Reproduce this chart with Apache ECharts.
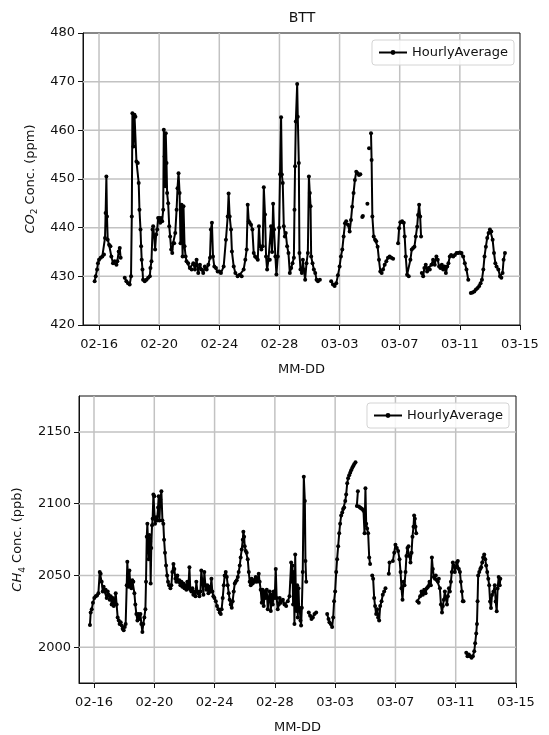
<!DOCTYPE html>
<html>
<head>
<meta charset="utf-8">
<script src="https://cdn.jsdelivr.net/npm/echarts@6/dist/echarts.min.js"></script>
<style>
html,body{margin:0;padding:0;background:#fff;}
#chart{width:549px;height:735px;}
</style>
</head>
<body>
<div id="chart"></div>
<script>
// x values: days since 2024-02-16 00:00 ; null value = gap in record
const tickDays = [0, 4, 8, 12, 16, 20, 24, 28];
const tickLabels = ['02-16', '02-20', '02-24', '02-28', '03-03', '03-07', '03-11', '03-15'];
const co2Ticks = [420, 430, 440, 450, 460, 470, 480];
const ch4Ticks = [2000, 2050, 2100, 2150];
const seriesName = 'HourlyAverage';
const chartTitle = 'BTT';

const co2Day = [-0.29,-0.22,-0.13,-0.07,0,0.11,0.22,0.33,0.4,0.44,0.49,0.53,0.58,0.67,0.76,0.82,0.93,1.04,1.16,1.22,1.31,1.38,1.44,1.55,
1.71,1.82,1.93,2.04,2.13,2.18,2.22,2.29,2.36,2.42,2.49,2.58,2.64,2.69,2.76,2.8,2.84,2.89,2.93,3.04,3.16,3.27,3.38,3.42,3.49,3.56,3.6,3.67,3.73,3.8,3.87,3.93,
4.0,4.07,4.13,4.2,4.27,4.31,4.36,4.4,4.44,4.49,4.53,4.6,4.67,4.73,4.8,4.87,4.93,5.0,5.07,5.16,5.22,5.29,5.36,5.42,5.49,5.56,5.62,5.69,5.76,5.82,5.93,
6.04,6.16,6.27,6.38,6.49,6.6,6.71,6.82,6.93,7.04,7.16,7.27,7.38,7.44,7.51,7.58,7.67,7.78,7.89,8.0,8.11,8.29,8.44,8.56,8.62,8.69,8.78,8.84,8.96,
9.07,9.22,9.36,9.49,9.62,9.73,9.82,9.89,9.96,10.02,10.11,10.2,10.29,10.38,10.47,10.56,10.64,10.71,10.8,10.89,10.96,11.04,11.11,11.18,11.27,11.36,11.44,11.51,11.58,11.64,11.73,11.8,11.89,11.98,
12.04,12.11,12.16,12.22,12.29,12.36,12.42,12.51,12.6,12.69,12.78,12.87,12.96,13.0,13.04,13.09,13.18,13.22,13.29,13.33,13.4,13.49,13.56,13.62,13.71,13.8,13.89,13.96,14.02,14.07,14.11,14.2,14.29,14.38,14.47,14.56,14.69,15.0,
15.44,15.56,15.67,15.78,15.89,16.0,16.09,16.18,16.27,16.36,16.44,16.56,16.67,16.76,16.84,16.93,17.02,17.11,17.2,17.29,17.38,17.45,17.51,17.55,17.65,17.85,17.9,17.96,18.03,
18.09,18.13,18.18,18.27,18.36,18.44,18.53,18.62,18.71,18.8,18.89,19.0,19.11,19.22,19.33,19.44,19.56,19.7,19.89,19.96,20.04,20.16,20.27,20.33,20.4,20.49,20.6,20.71,20.8,20.89,20.98,21.07,21.16,21.22,21.29,21.36,21.42,21.44,
21.47,21.56,21.64,21.73,21.82,21.91,22.0,22.11,22.22,22.33,22.44,22.53,22.62,22.71,22.8,22.89,22.98,23.07,23.16,23.24,23.33,23.42,23.56,23.67,23.78,23.89,24.0,24.11,24.22,24.33,24.44,24.56,24.65,
24.73,24.84,24.96,25.07,25.18,25.29,25.38,25.47,25.56,25.64,25.73,25.82,25.91,26.0,26.09,26.18,26.27,26.36,26.44,26.56,26.67,26.76,26.84,26.91,27.0];
const co2Ppm = [429,430,431.4,432.7,433.4,433.8,434.1,434.5,437.9,443,450.5,442.3,437.5,436.5,436.2,434.1,432.7,433.1,432.4,433.1,435.1,435.8,433.8,null,
429.7,429,428.6,428.3,430,442.3,463.5,456.7,463.2,462.8,453.6,453.3,449.2,443.7,439.6,436.2,433.4,431.4,429.3,429,429.3,429.7,430,431.7,433.1,439.6,440.3,438.2,435.5,438.6,439.6,442,
442,441,442,441.3,443.7,460.1,454.6,448.5,459.4,453.3,447.1,445,440.3,438.2,435.5,434.8,436.8,436.8,438.9,443.7,448.1,451.2,447.1,436.8,444.7,434.1,444.4,436.2,434.1,433.1,432.7,
431.7,431.4,432.7,431.4,433.4,430.7,432.4,431.4,430.7,432,431.4,432.4,433.8,439.6,441,434.1,432,431.7,431,431,430.7,432,437.5,442.3,447,442.3,439.6,435.1,432,
430.7,430,430.3,430,431.4,433.4,435.5,444.7,441.3,441,440.6,439.6,434.8,434.1,433.8,433.4,440.3,436.2,435.5,436.2,448.3,442.7,434.1,431.4,433.4,433.4,440.3,435,444.9,439.6,434.1,430.4,434.1,440,
451,462.7,450.9,449.2,440.3,438.2,438.9,436.2,434.8,430.7,431.7,432.7,433.8,443.7,452.6,461.8,469.5,462.8,453.3,434.8,431.4,430.7,433.4,431.4,429.3,432.7,434.8,450.5,447.1,444.4,434.1,432.7,431.4,430.7,429.3,429,429.3,null,
429,428.3,428,428.6,430.2,432,434.1,435.5,438.2,440.9,441.3,440.6,439.2,441.6,444.3,447.1,449.8,451.5,451.2,450.8,451,null,442.2,442.4,null,444.9,null,456.3,null,
459.4,453.9,442.3,438.2,437.5,437.2,436.1,433.4,431,430.7,431.4,432.4,433.1,433.8,434.1,433.8,433.6,null,436.8,439.9,441.1,441.3,441,438.2,434.1,430.3,430,433.4,435.5,435.8,436.1,438.2,440.2,442.6,444.7,442.3,438.2,null,
430.7,430,431.7,432.4,431,431.7,431.4,432.4,433.4,432.4,434.1,433.4,432,431.7,432.4,431.4,432,430.7,432,432.7,434.1,434.4,434.1,434.4,434.8,434.8,434.9,434.8,434.1,432.7,431.4,429.3,null,
426.6,426.7,426.9,427.3,427.6,428,428.6,429.3,431.4,434.1,436.1,437.9,438.9,439.6,439.2,437.5,434.8,432.7,432,431.4,430,429.7,430.7,433.4,434.8];

const ch4Day = [-0.27,-0.22,-0.15,-0.07,0.02,0.11,0.2,0.29,0.38,0.44,0.51,0.58,0.64,0.71,0.77,0.84,0.91,0.97,1.04,1.11,1.17,1.24,1.31,1.37,1.44,1.5,1.57,1.64,1.7,1.77,1.84,1.9,1.97,2.04,2.1,
2.17,2.21,2.28,2.35,2.41,2.48,2.54,2.61,2.68,2.74,2.81,2.88,2.94,3.01,3.08,3.14,3.21,3.27,3.34,3.41,3.45,3.5,3.54,3.58,3.63,3.67,3.72,3.76,3.8,3.85,3.89,3.94,
4.0,4.05,4.12,4.18,4.25,4.29,4.34,4.4,4.47,4.54,4.6,4.65,4.71,4.78,4.85,4.91,4.98,5.07,5.13,5.2,5.27,5.33,5.4,5.46,5.53,5.6,5.66,5.73,5.8,5.86,5.93,
6.0,6.06,6.13,6.19,6.26,6.33,6.39,6.46,6.53,6.59,6.66,6.73,6.79,6.86,6.92,6.99,7.06,7.12,7.19,7.26,7.32,7.39,7.46,7.52,7.59,7.65,7.72,7.79,7.85,7.92,7.99,
8.08,8.16,8.25,8.34,8.41,8.47,8.54,8.61,8.67,8.74,8.81,8.87,8.94,9.0,9.07,9.14,9.2,9.27,9.34,9.4,9.47,9.54,9.6,9.67,9.73,9.8,9.87,9.91,9.96,
10.0,10.07,10.13,10.2,10.27,10.33,10.4,10.46,10.53,10.6,10.66,10.73,10.8,10.86,10.93,10.99,11.06,11.13,11.19,11.26,11.33,11.39,11.46,11.53,11.59,11.66,11.73,11.79,11.86,11.92,11.99,
12.06,12.12,12.19,12.26,12.32,12.4,12.53,12.64,12.75,12.86,12.97,13.08,13.12,13.17,13.21,13.26,13.3,13.35,13.39,13.43,13.48,13.52,13.57,13.61,13.66,13.7,13.74,13.79,13.85,13.92,13.99,14.03,14.08,14.15,
14.25,14.34,14.43,14.52,14.63,14.74,15.1,15.47,15.56,15.62,15.71,15.8,15.87,15.93,16.0,16.07,16.13,16.2,16.27,16.33,16.4,16.47,16.53,16.6,16.67,16.73,16.8,16.86,16.93,17.0,17.06,17.13,17.19,17.26,17.35,17.4,
17.44,17.51,17.54,17.57,17.65,17.72,17.79,17.88,17.95,18.01,18.06,18.12,18.19,18.26,18.32,18.39,18.46,18.52,18.59,18.65,18.72,18.79,18.85,18.92,18.99,19.08,19.16,19.25,19.34,19.45,19.56,19.61,19.7,
19.83,19.92,20.0,20.09,20.18,20.27,20.34,20.4,20.47,20.54,20.6,20.67,20.73,20.8,20.87,20.93,21.0,21.07,21.13,21.2,21.24,21.29,21.33,21.38,21.42,
21.46,21.55,21.64,21.73,21.82,21.91,22.0,22.08,22.17,22.26,22.35,22.42,22.48,22.55,22.62,22.68,22.75,22.82,22.88,22.95,23.02,23.09,23.15,23.21,23.28,23.35,23.42,23.48,23.55,23.61,23.68,23.74,23.81,23.88,23.94,
24.01,24.08,24.14,24.21,24.28,24.34,24.41,24.47,24.52,24.6,24.7,24.78,24.87,24.96,25.05,25.14,25.23,25.29,25.36,25.41,25.45,25.49,25.56,25.63,25.69,25.76,25.82,25.89,25.96,
26.02,26.09,26.16,26.22,26.28,26.34,26.41,26.5,26.59,26.65,26.72,26.78,26.85,26.92,26.96];
const ch4Ppb = [2015.5,2024.1,2026.4,2030.9,2034.2,2035.4,2036,2037.6,2052.3,2051.1,2045.5,2038.7,2042.1,2038.7,2039.9,2034.2,2038.7,2036.5,2033.1,2035.4,2029.7,2034.2,2028.6,2032,2037.6,2029.7,2020.7,2018.5,2016.2,2017.3,2015.1,2012.8,2011.7,2014,2016.2,
2043.2,2059.5,2042.1,2053.4,2043.2,2041,2046.6,2045.5,2037.6,2029.7,2023,2018.5,2023,2019.6,2023,2016.2,2010.6,2016.2,2020.7,2026.4,2045.5,2077,2086,2074.8,2061.3,2078.2,2073.6,2044.4,2069.1,2084.9,2089.4,2106.3,
2105.2,2086,2090.5,2088.3,2097.3,2105.2,2088.3,2102.9,2108.6,2088.3,2086,2074.8,2065.8,2056.8,2050,2045.5,2043.2,2041,2043.2,2052.3,2057.9,2054.5,2047.7,2045.5,2050,2045.5,2046.6,2043.2,2045.5,2042.1,2044.4,
2041,2043.2,2039.9,2045.5,2041,2055.6,2039.9,2038.7,2041,2036.5,2038.7,2035.4,2045.5,2038.7,2037.6,2035.4,2038.7,2053.4,2045.5,2036.5,2052.3,2043.2,2039.9,2043.2,2037.6,2042.1,2038.7,2047.7,2038.7,2035.4,2034.2,
2032,2028.6,2026.4,2024.1,2023,2026.4,2034.2,2043.2,2050,2052.3,2048.9,2043.2,2037.6,2033.1,2029.7,2027.5,2032,2038.7,2044.4,2045.5,2046.6,2048.9,2052.3,2056.8,2062.4,2068,2074.8,2080.4,2077,
2070.3,2066.9,2065.8,2061.3,2052.3,2045.5,2043.2,2047.7,2044.4,2046.6,2045.5,2048.9,2045.5,2047.7,2051.1,2045.5,2039.9,2030.9,2039.9,2028.6,2038.7,2034.2,2039.9,2026.4,2034.2,2038.7,2025.2,2036.5,2029.7,2038.7,2034.2,
2054.5,2034.2,2026.4,2029.7,2034.2,2031,2033.1,2029.7,2028.6,2032,2035.4,2059,2045.5,2056.8,2029.7,2052.3,2016.2,2064.6,2038.7,2025.2,2043.2,2020.7,2041,2027.5,2025.2,2018.5,2015.1,2027.5,2052.3,2118.7,2101.8,2060.1,2045.5,null,
2024.1,2021.8,2019.6,2020.7,2023,2024.1,null,2023,2019.6,2017.3,2016.2,2014,2020.7,2032,2038.7,2052.3,2061.3,2070.3,2079.3,2086,2091.7,2093.9,2096.2,2097.3,2101.8,2106.3,2114.2,2117.6,2119.8,2121.6,2123.2,2124.8,2126.1,2127.5,2128.8,null,
2098.4,2108.6,null,2098,2097.3,2096.8,2096.2,2095.1,2079.3,2110.8,2086,2082.6,2079.3,2062.4,2057.9,null,2050,2047.7,2034.2,2028.6,2023,2026.4,2020.7,2018.5,2028.6,2032,2036.5,2038.7,2041,null,2051.1,2059,null,
2060.1,2065.8,2071.4,2069.1,2066.9,2061.3,2052.3,2041,2033.1,2045.5,2043.2,2052.3,2063.5,2069.1,2070.3,2063.5,2059,2065.8,2077,2083.8,2091.7,2089.4,2083.8,2079.3,null,
2032,2030.9,2035.4,2038.7,2036.5,2039.9,2037.6,2041,2042.1,2045.5,2043.2,2062.4,2054.5,2048.9,2047.7,2050,2046.6,2045.5,2047.7,2041,2029.7,2024.1,2028.6,2033.1,2038.7,2034.2,2029.7,2035.4,2041,2038.7,2045.5,2052.3,2059,2056.8,2052.3,
2055.6,2059,2060.1,2054.5,2052.3,2045.5,2038.7,2032,2032,null,1996,1993.7,1994.8,1993.7,1992.6,1993.7,1997.1,2002.7,2009.5,2016.2,2032,2050,2052.3,2054.5,2055.6,2059,2062.4,2064.6,2061.3,
2056.8,2052.3,2047.7,2043.2,2031.8,2027.3,2036.3,2038.6,2043.1,2031.8,2025,2040.9,2048.8,2043.1,2047.6];

function pairs(xs, ys) {
  return xs.map((x, i) => [x, ys[i] === null ? '-' : ys[i]]);
}
function dayLabel(v) {
  const i = tickDays.indexOf(Math.round(v));
  return i >= 0 ? tickLabels[i] : '';
}

const FONT = 'DejaVu Sans';
const TXT = '#111';
const GRID = '#c2c2c2';

// panel extents
const co2X = [-1.065, 28], co2Y = [1975 * 0 + 420, 480];
const ch4X = [-0.996, 28], ch4Y = [1975, 2175];

// grid lines drawn as polylines placed through the axes' own scales
function gridData(xExt, yExt, yTicks) {
  const out = [];
  tickDays.filter(d => d > xExt[0] && d < xExt[1]).forEach(d => {
    out.push([d, yExt[0]], [d, yExt[1]], [d, '-']);
  });
  yTicks.filter(v => v > yExt[0] && v < yExt[1]).forEach(v => {
    out.push([xExt[0], v], [xExt[1], v], [xExt[1], '-']);
  });
  return out;
}
function gridSeries(idx, data) {
  return {
    name: 'grid' + idx, type: 'line', xAxisIndex: idx, yAxisIndex: idx, data: data,
    showSymbol: false, symbol: 'none', connectNulls: false, silent: true, z: 2,
    lineStyle: {color: GRID, width: 1.5}, emphasis: {disabled: true}, tooltip: {show: false}
  };
}

function xAxisCfg(gridIndex, ext) {
  return {
    type: 'value', gridIndex: gridIndex, min: ext[0], max: ext[1],
    name: 'MM-DD', nameLocation: 'middle', nameGap: 38,
    nameTextStyle: {fontFamily: FONT, fontSize: 13, color: TXT},
    axisLine: {show: true, onZero: false, lineStyle: {color: '#111', width: 1}},
    axisTick: {show: true, inside: false, length: 5, customValues: tickDays, lineStyle: {color: '#111', width: 1}},
    axisLabel: {customValues: tickDays, formatter: dayLabel, margin: 13, fontFamily: FONT, fontSize: 13, color: TXT},
    splitLine: {show: false}
  };
}

function yName(main, sub, rest) {
  return '{i|' + main + '}{s|' + sub + '}{n|' + rest + '}';
}
const nameRich = {
  i: {fontFamily: FONT, fontStyle: 'italic', fontSize: 13, color: TXT, lineHeight: 18, verticalAlign: 'middle'},
  s: {fontFamily: FONT, fontSize: 9, color: TXT, lineHeight: 18, verticalAlign: 'bottom', padding: [6, 0, 0, 0]},
  n: {fontFamily: FONT, fontSize: 13, color: TXT, lineHeight: 18, verticalAlign: 'middle'}
};

const option = {
  animation: false,
  backgroundColor: '#fff',
  title: {
    text: chartTitle, left: 302, top: 11, textAlign: 'center', padding: 0,
    textStyle: {fontFamily: FONT, fontSize: 14, fontWeight: 'normal', color: TXT}
  },
  legend: [
    {data: [seriesName], right: 35, top: 40},
    {data: [seriesName], right: 40, top: 403}
  ].map(l => Object.assign(l, {
    orient: 'vertical', itemWidth: 28, itemHeight: 6,
    padding: [6, 6, 6, 6], borderColor: '#d4d4d4', borderWidth: 1, borderRadius: 3,
    backgroundColor: 'rgba(255,255,255,0.85)',
    textStyle: {fontFamily: FONT, fontSize: 13, color: TXT},
    lineStyle: {width: 2}
  })),
  grid: [
    {left: 83, top: 33, width: 437, height: 292, show: true, borderColor: '#111', borderWidth: 1},
    {left: 79, top: 396, width: 437, height: 295, show: true, borderColor: '#111', borderWidth: 1}
  ],
  xAxis: [xAxisCfg(0, co2X), xAxisCfg(1, ch4X)],
  yAxis: [
    {
      type: 'value', gridIndex: 0, min: co2Ticks[0], max: co2Ticks[co2Ticks.length - 1], interval: 10,
      name: yName('CO', '2', ' Conc. (ppm)'), nameLocation: 'middle', nameGap: 40,
      nameTextStyle: {rich: nameRich},
      axisLine: {show: true, onZero: false, lineStyle: {color: '#111', width: 1}},
      axisTick: {show: true, length: 5, lineStyle: {color: '#111', width: 1}},
      axisLabel: {margin: 8, fontFamily: FONT, fontSize: 13, color: TXT, formatter: v => String(v)},
      splitLine: {show: false}
    },
    {
      type: 'value', gridIndex: 1, min: ch4Y[0], max: ch4Y[1],
      name: yName('CH', '4', ' Conc. (ppb)'), nameLocation: 'middle', nameGap: 44,
      nameTextStyle: {rich: nameRich},
      axisLine: {show: true, onZero: false, lineStyle: {color: '#111', width: 1}},
      axisTick: {show: true, length: 5, customValues: ch4Ticks, lineStyle: {color: '#111', width: 1}},
      axisLabel: {customValues: ch4Ticks, margin: 8, fontFamily: FONT, fontSize: 13, color: TXT, formatter: v => String(v)},
      splitLine: {show: false}
    }
  ],
  series: [
    gridSeries(0, gridData(co2X, co2Y, co2Ticks)),
    gridSeries(1, gridData(ch4X, ch4Y, ch4Ticks))
  ].concat([
    {name: seriesName, type: 'line', xAxisIndex: 0, yAxisIndex: 0, data: pairs(co2Day, co2Ppm)},
    {name: seriesName, type: 'line', xAxisIndex: 1, yAxisIndex: 1, data: pairs(ch4Day, ch4Ppb)}
  ].map(s => Object.assign(s, {
    z: 2, symbol: 'circle', symbolSize: 4, showSymbol: true, connectNulls: false,
    lineStyle: {color: '#000', width: 2}, itemStyle: {color: '#000'}, silent: true
  })))
};

const chart = echarts.init(document.getElementById('chart'), null, {renderer: 'canvas'});
chart.setOption(option);
</script>
</body>
</html>
